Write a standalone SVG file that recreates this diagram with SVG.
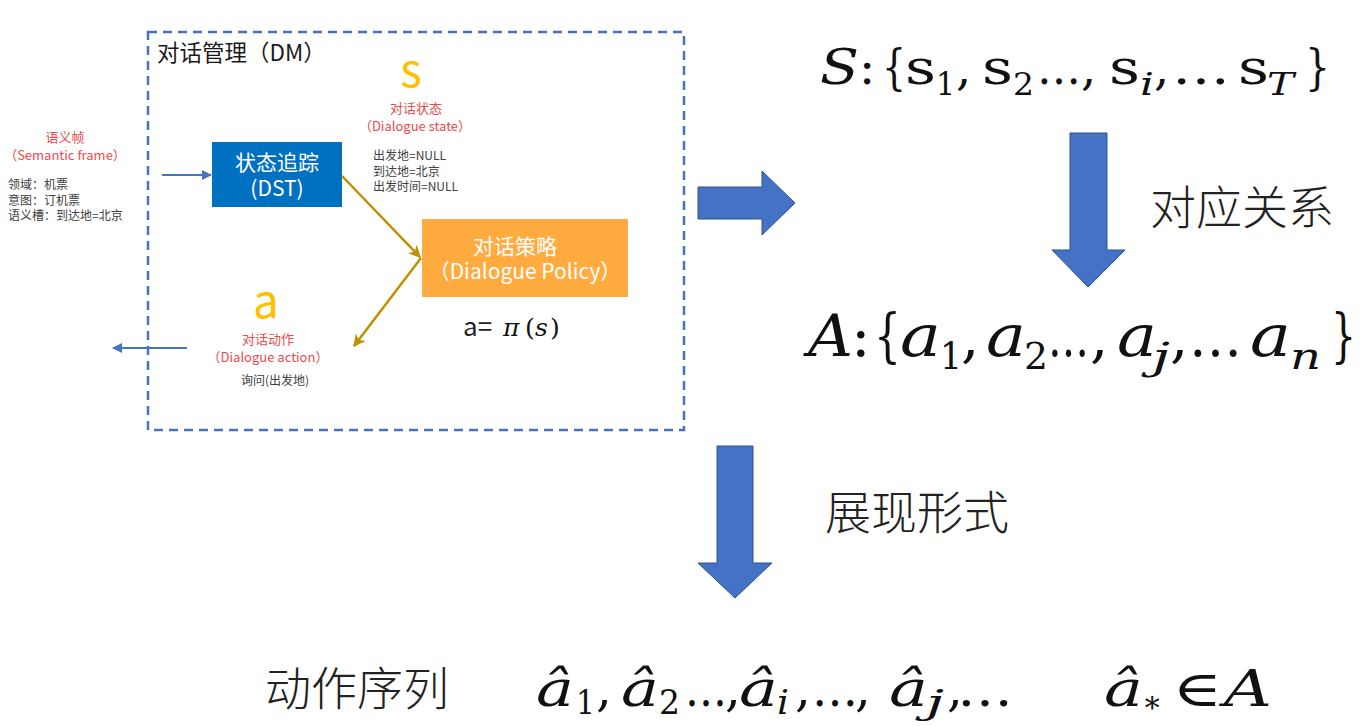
<svg xmlns="http://www.w3.org/2000/svg" width="1364" height="726" viewBox="0 0 1364 726">
<defs>
<marker id="ab" viewBox="0 0 10 10" refX="9" refY="5" markerWidth="5" markerHeight="5" orient="auto"><path d="M0,0 L10,5 L0,10 z" fill="#4472C4"/></marker>
<marker id="ag" viewBox="0 0 10 10" refX="9" refY="5" markerWidth="5" markerHeight="5" orient="auto"><path d="M0,0 L10,5 L0,10 L3,5 z" fill="#BF9000"/></marker>
</defs>
<style>
.cj{font-family:"Noto Sans CJK SC","Noto Sans",sans-serif}
.red{fill:#E94B4B;font-size:13px}
.blk{fill:#404040;font-size:12px}
.wt{fill:#fff;font-size:21px}
.big{fill:#222;font-size:46px;font-weight:300}
.m{font-family:"DejaVu Serif","Liberation Serif",serif;fill:#111}
.it{font-style:italic}
.blk-arrow{fill:#4472C4;stroke:#2F528F;stroke-width:1}
.gold{stroke:#BF9000;stroke-width:2.5;fill:none}
.blue{stroke:#4472C4;stroke-width:2;fill:none}
</style>
<rect width="1364" height="726" fill="#fff"/>

<g id="dm-frame">
<rect x="148" y="32" width="536" height="398" fill="none" stroke="#4472C4" stroke-width="2.5" stroke-dasharray="9,6"/>
<text class="cj" x="157" y="61" font-size="22.5" fill="#1a1a1a">对话管理（DM）</text>
</g>

<g id="semantic-frame" class="cj">
<text class="red" x="65" y="142" text-anchor="middle">语义帧</text>
<text class="red" x="65" y="160" text-anchor="middle" font-size="12.5">（Semantic frame）</text>
<text class="blk" x="8" y="189">领域：机票</text>
<text class="blk" x="8" y="205">意图：订机票</text>
<text class="blk" x="8" y="220">语义槽：到达地=北京</text>
</g>

<g id="dst">
<rect x="212" y="142" width="130" height="65" fill="#0070C0"/>
<text class="cj wt" x="277" y="170" text-anchor="middle">状态追踪</text>
<text class="cj wt" x="277" y="196" text-anchor="middle">(DST)</text>
</g>

<g id="dialogue-state" class="cj">
<text x="411" y="87" text-anchor="middle" font-size="46" fill="#FFC000">s</text>
<text class="red" x="416" y="113" text-anchor="middle">对话状态</text>
<text class="red" x="415" y="131" text-anchor="middle">（Dialogue state）</text>
<text class="blk" x="373" y="160" font-size="12.5">出发地=NULL</text>
<text class="blk" x="373" y="175.5" font-size="12.5">到达地=北京</text>
<text class="blk" x="373" y="191" font-size="12.5">出发时间=NULL</text>
</g>

<g id="policy">
<rect x="422" y="219" width="206" height="78" fill="#FFAB40"/>
<text class="cj wt" x="515" y="254" text-anchor="middle">对话策略</text>
<text class="cj wt" x="525" y="279" text-anchor="middle" font-size="20">（Dialogue Policy）</text>
<text x="463" y="336" font-size="26" fill="#222"><tspan class="cj">a=</tspan><tspan class="m it" x="503" font-size="25">π</tspan><tspan class="m" x="525" font-size="25">(</tspan><tspan class="m it" x="535" font-size="25">s</tspan><tspan class="m" x="550" font-size="25">)</tspan></text>
</g>

<g id="dialogue-action" class="cj">
<text x="266" y="318" text-anchor="middle" font-size="46" fill="#FFC000">a</text>
<text class="red" x="268" y="344" text-anchor="middle">对话动作</text>
<text class="red" x="268" y="362" text-anchor="middle">（Dialogue action）</text>
<text class="blk" x="275" y="385" text-anchor="middle">询问(出发地)</text>
</g>

<g id="connectors">
<line class="blue" x1="162" y1="175" x2="211" y2="175" marker-end="url(#ab)"/>
<line class="blue" x1="187" y1="348" x2="113" y2="348" marker-end="url(#ab)"/>
<line class="gold" x1="342" y1="176" x2="420" y2="257" marker-end="url(#ag)"/>
<line class="gold" x1="421" y1="258" x2="354" y2="346" marker-end="url(#ag)"/>
<path class="blk-arrow" d="M698,187 L762,187 L762,171 L795,203 L762,235 L762,219 L698,219 Z"/>
<path class="blk-arrow" d="M1070,133 L1107,133 L1107,250 L1125,250 L1088,287 L1052,250 L1070,250 Z"/>
<path class="blk-arrow" d="M717,446 L753,446 L753,563 L772,563 L735,598 L698,563 L717,563 Z"/>
</g>

<g id="state-set">
<text class="m" y="84" font-size="48"><tspan class="it" x="820" textLength="39" lengthAdjust="spacingAndGlyphs">S</tspan><tspan x="859">:</tspan><tspan x="882" textLength="24" lengthAdjust="spacingAndGlyphs">{</tspan><tspan x="905" textLength="31" lengthAdjust="spacingAndGlyphs">s</tspan><tspan x="936" y="95" font-size="32" textLength="19" lengthAdjust="spacingAndGlyphs">1</tspan><tspan x="956" y="84">,</tspan><tspan x="982" textLength="31" lengthAdjust="spacingAndGlyphs">s</tspan><tspan x="1013" y="95" font-size="32" textLength="21" lengthAdjust="spacingAndGlyphs">2</tspan><tspan x="1037" y="84" textLength="44" lengthAdjust="spacingAndGlyphs">…</tspan><tspan x="1081">,</tspan><tspan x="1109" textLength="31" lengthAdjust="spacingAndGlyphs">s</tspan><tspan class="it" x="1140" y="95" font-size="32" textLength="14" lengthAdjust="spacingAndGlyphs">i</tspan><tspan x="1154" y="84">,</tspan><tspan x="1172" textLength="58" lengthAdjust="spacingAndGlyphs">…</tspan><tspan x="1238" textLength="31" lengthAdjust="spacingAndGlyphs">s</tspan><tspan class="it" x="1267" y="95" font-size="32" textLength="27" lengthAdjust="spacingAndGlyphs">T</tspan><tspan x="1305" y="84" textLength="25" lengthAdjust="spacingAndGlyphs">}</tspan></text>
</g>

<g id="action-set">
<text class="m" y="356" font-size="58"><tspan class="it" x="808" textLength="45" lengthAdjust="spacingAndGlyphs">A</tspan><tspan x="851">:</tspan><tspan x="874" textLength="27" lengthAdjust="spacingAndGlyphs">{</tspan><tspan class="it" x="900" textLength="41" lengthAdjust="spacingAndGlyphs">a</tspan><tspan x="940" y="369" font-size="38" textLength="22" lengthAdjust="spacingAndGlyphs">1</tspan><tspan x="961" y="356">,</tspan><tspan class="it" x="986" textLength="40" lengthAdjust="spacingAndGlyphs">a</tspan><tspan x="1024" y="369" font-size="38" textLength="24" lengthAdjust="spacingAndGlyphs">2</tspan><tspan x="1048" y="356" textLength="41" lengthAdjust="spacingAndGlyphs">…</tspan><tspan x="1090">,</tspan><tspan class="it" x="1117" textLength="40" lengthAdjust="spacingAndGlyphs">a</tspan><tspan class="it" x="1152" y="369" font-size="38" textLength="18" lengthAdjust="spacingAndGlyphs">j</tspan><tspan x="1170" y="356">,</tspan><tspan x="1189" textLength="53" lengthAdjust="spacingAndGlyphs">…</tspan><tspan class="it" x="1250" textLength="41" lengthAdjust="spacingAndGlyphs">a</tspan><tspan class="it" x="1290" y="369" font-size="38" textLength="31" lengthAdjust="spacingAndGlyphs">n</tspan><tspan x="1331" y="356" textLength="25" lengthAdjust="spacingAndGlyphs">}</tspan></text>
</g>

<g id="label-correspond" class="cj">
<text class="big" x="1150" y="224">对应关系</text>
</g>
<g id="label-form" class="cj">
<text class="big" x="825" y="529">展现形式</text>
</g>

<g id="action-sequence">
<text class="cj big" x="265" y="705" font-size="45.5">动作序列</text>
<text class="m" y="706" font-size="50"><tspan class="it" x="536" textLength="38" lengthAdjust="spacingAndGlyphs">â</tspan><tspan x="576" y="714" font-size="34" textLength="19" lengthAdjust="spacingAndGlyphs">1</tspan><tspan x="596" y="706">,</tspan><tspan class="it" x="621" textLength="38" lengthAdjust="spacingAndGlyphs">â</tspan><tspan x="659" y="714" font-size="34" textLength="21" lengthAdjust="spacingAndGlyphs">2</tspan><tspan x="685" y="706" textLength="42" lengthAdjust="spacingAndGlyphs">…</tspan><tspan x="725">,</tspan><tspan class="it" x="739" textLength="39" lengthAdjust="spacingAndGlyphs">â</tspan><tspan class="it" x="777" y="714" font-size="34" textLength="12" lengthAdjust="spacingAndGlyphs">i</tspan><tspan x="795" y="706">,</tspan><tspan x="812" textLength="46" lengthAdjust="spacingAndGlyphs">…</tspan><tspan x="855">,</tspan><tspan class="it" x="889" textLength="39" lengthAdjust="spacingAndGlyphs">â</tspan><tspan class="it" x="926" y="714" font-size="34" textLength="18" lengthAdjust="spacingAndGlyphs">j</tspan><tspan x="947" y="706">,</tspan><tspan x="957" textLength="56" lengthAdjust="spacingAndGlyphs">…</tspan><tspan class="it" x="1104" textLength="39" lengthAdjust="spacingAndGlyphs">â</tspan><tspan x="1142" y="712" font-size="30">∗</tspan><tspan x="1172" y="706" textLength="50" lengthAdjust="spacingAndGlyphs">∈</tspan><tspan class="it" x="1224" textLength="48" lengthAdjust="spacingAndGlyphs">A</tspan></text>
</g>
</svg>
